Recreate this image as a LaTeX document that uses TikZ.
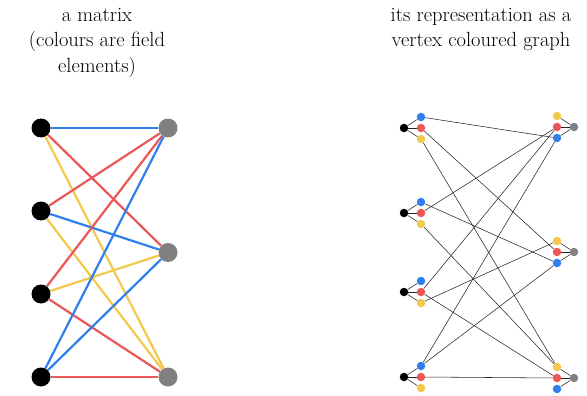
\documentclass[tikz,border=0pt]{standalone}
\usepackage{tikz}
\definecolor{cb}{RGB}{47,128,237}
\definecolor{cr}{RGB}{235,87,87}
\definecolor{cy}{RGB}{242,201,76}
\definecolor{cg}{RGB}{128,128,128}
\tikzset{
  bigdot/.style={circle, inner sep=0pt, minimum size=19pt},
  smalldot/.style={circle, inner sep=0pt, minimum size=8.5pt},
  entry/.style={line width=2.2pt},
  thinedge/.style={line width=0.55pt, black!85},
  title/.style={align=center, font=\fontsize{20.5}{25.5}\selectfont}
}
\begin{document}
\begin{tikzpicture}[x=1pt, y=-1pt]
        \useasboundingbox (0,0) rectangle (587,396);
        \node[title] (t1) at (97,42.5) {a matrix\\(colours are field\\elements)};
        \node[title] (t2) at (481,29.5) {its representation as a\\vertex coloured graph};
        % the matrix
        \foreach \i/\y in {1/128,2/211,3/294,4/377}{
          \node[bigdot, fill=black] (a\i) at (41,\y) {};
        }
        \foreach \j/\y in {1/128,2/252.5,3/377}{
          \node[bigdot, fill=cg] (b\j) at (168,\y) {};
        }
        \foreach \i/\j/\c in {1/1/cb,1/2/cr,1/3/cy,2/1/cr,2/2/cb,2/3/cy,
                              3/1/cr,3/2/cy,3/3/cr,4/1/cb,4/2/cb,4/3/cr}{
          \draw[entry, \c] (a\i) -- (b\j);
        }
        % the coloured graph
        \foreach \i/\y in {1/128,2/213,3/292,4/377}{
          \node[smalldot, fill=black] (v\i) at (404,\y) {};
          \node[smalldot, fill=cb] (v\i cb) at (421,\y-11) {};
          \node[smalldot, fill=cr] (v\i cr) at (421,\y) {};
          \node[smalldot, fill=cy] (v\i cy) at (421,\y+11) {};
          \foreach \c in {cb,cr,cy}{
            \draw[thinedge] (v\i) -- (v\i\c);
          }
        }
        \foreach \j/\y in {1/127,2/252,3/378}{
          \node[smalldot, fill=cg] (w\j) at (574,\y) {};
          \node[smalldot, fill=cy] (w\j cy) at (557,\y-11) {};
          \node[smalldot, fill=cr] (w\j cr) at (557,\y) {};
          \node[smalldot, fill=cb] (w\j cb) at (557,\y+11) {};
          \foreach \c in {cb,cr,cy}{
            \draw[thinedge] (w\j) -- (w\j\c);
          }
        }
        \foreach \i/\j/\c in {1/1/cb,1/2/cr,1/3/cy,2/1/cr,2/2/cb,2/3/cy,
                              3/1/cr,3/2/cy,3/3/cr,4/1/cb,4/2/cb,4/3/cr}{
          \draw[thinedge] (v\i\c) -- (w\j\c);
        }
      \end{tikzpicture}
\end{document}
